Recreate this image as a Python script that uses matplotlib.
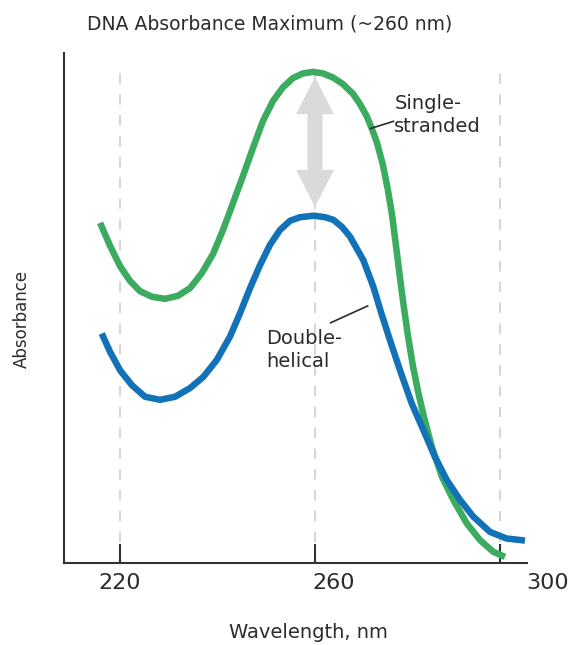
import matplotlib
matplotlib.use("Agg")
import matplotlib.pyplot as plt
from matplotlib.transforms import ScaledTranslation

# values (absorbance in arbitrary units, 0..1)
single_nm = [215.90, 217.95, 220.00, 222.05, 224.10, 226.56, 229.23, 231.90, 234.36, 236.82,
             239.08, 241.13, 243.18, 245.23, 247.28, 249.33, 251.38, 253.44, 255.49, 257.54,
             259.59, 261.64, 263.69, 265.74, 267.79, 269.23, 270.67, 271.69, 272.72, 273.95,
             274.97, 275.79, 276.62, 277.44, 278.26, 279.08, 280.10, 281.13, 282.36, 284.00,
             286.05, 288.37, 291.12, 293.85, 296.57, 298.97]
single_abs = [0.667, 0.622, 0.582, 0.553, 0.533, 0.522, 0.518, 0.524, 0.539, 0.569,
              0.606, 0.653, 0.706, 0.759, 0.814, 0.867, 0.906, 0.933, 0.951, 0.960,
              0.963, 0.960, 0.952, 0.939, 0.920, 0.900, 0.875, 0.851, 0.824, 0.780,
              0.731, 0.684, 0.622, 0.559, 0.500, 0.445, 0.386, 0.337, 0.286, 0.227,
              0.169, 0.124, 0.078, 0.045, 0.022, 0.012]

double_nm = [216.25, 217.95, 220.00, 222.40, 225.13, 228.21, 231.28, 234.36, 237.09, 239.84,
             242.56, 244.62, 246.67, 248.72, 250.77, 252.82, 254.87, 256.92, 259.79, 262.05,
             263.75, 265.54, 267.18, 269.91, 271.96, 273.54, 275.38, 277.44, 279.84, 282.22,
             284.62, 287.02, 289.74, 292.47, 295.90, 299.32, 303.08]
double_abs = [0.450, 0.414, 0.378, 0.349, 0.326, 0.320, 0.326, 0.343, 0.365, 0.398,
              0.444, 0.490, 0.539, 0.584, 0.624, 0.653, 0.671, 0.678, 0.681, 0.678,
              0.673, 0.659, 0.640, 0.594, 0.542, 0.492, 0.437, 0.378, 0.313, 0.261,
              0.208, 0.163, 0.124, 0.091, 0.061, 0.048, 0.044]

tick_nm = [220, 260, 298]
tick_labels = ["220", "260", "300"]
peak_nm = 260
peak_single = 0.953
peak_double = 0.698

green = "#3aab5f"
blue = "#1272b7"
grey = "#d9dadc"
dark = "#2b2b2b"

fig = plt.figure(figsize=(5.7, 6.45), dpi=100)
ax = fig.add_axes([64 / 570, 1 - 563 / 645, 463 / 570, 510 / 645])
ax.set_xlim(208.5, 303.5)
ax.set_ylim(0, 1)

# dashed guide lines
ax.vlines(tick_nm, 0, 0.96, colors="#d6d6d6", linewidth=1.5,
          linestyles=(0, (5, 5)), zorder=1)

# grey double arrow between the two maxima
mid = (peak_single + peak_double) / 2
for tip in (peak_single, peak_double):
    ax.arrow(peak_nm, mid, 0, tip - mid, width=3.1, head_width=7.8,
             head_length=0.073, length_includes_head=True,
             color=grey, linewidth=0, zorder=2)

ax.plot(single_nm, single_abs, color=green, linewidth=4.7,
        solid_capstyle="butt", solid_joinstyle="round", zorder=3)
ax.plot(double_nm, double_abs, color=blue, linewidth=4.7,
        solid_capstyle="butt", solid_joinstyle="round", zorder=4)

# labels with leader lines
ax.plot([271.4, 276.1], [0.852, 0.866], color=dark, linewidth=1.2, zorder=5)
ax.text(276.3, 0.878, "Single-\nstranded", fontsize=14, color=dark,
        ha="left", va="center", linespacing=1.3)
ax.plot([263.2, 270.8], [0.471, 0.504], color=dark, linewidth=1.2, zorder=5)
ax.text(250.0, 0.418, "Double-\nhelical", fontsize=14, color=dark,
        ha="left", va="center", linespacing=1.3)

# axes styling
for side in ("top", "right"):
    ax.spines[side].set_visible(False)
for side in ("left", "bottom"):
    ax.spines[side].set_linewidth(1.5)
    ax.spines[side].set_color("#333333")
ax.set_yticks([])
ax.set_xticks(tick_nm)
ax.set_xticklabels(tick_labels)
ax.tick_params(axis="x", direction="in", length=14, width=1.5, colors="#333333",
               labelsize=16, pad=7, labelcolor=dark)
# shift tick labels like the reference places them
shifts = [0, 19, 47]
for lab, dx in zip(ax.get_xticklabels(), shifts):
    lab.set_transform(lab.get_transform() + ScaledTranslation(dx / 100, 0, fig.dpi_scale_trans))

fig.text(270 / 570, 1 - 24 / 645, "DNA Absorbance Maximum (~260 nm)",
         fontsize=13.5, color=dark, ha="center", va="center")
fig.text(308 / 570, 1 - 632 / 645, "Wavelength, nm", fontsize=14,
         color=dark, ha="center", va="center")
fig.text(22 / 570, 1 - 319 / 645, "Absorbance", fontsize=12, color=dark,
         ha="center", va="center", rotation=90)

fig.savefig("out.png", dpi=100)
